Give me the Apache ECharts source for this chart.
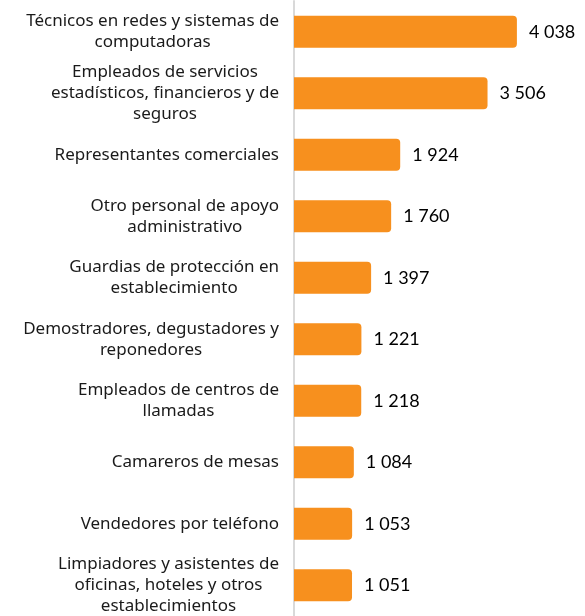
<!DOCTYPE html>
<html lang="es">
<head>
    <meta charset="utf-8">
    <title>Ocupaciones</title>
    <script src="https://cdn.jsdelivr.net/npm/echarts@6/dist/echarts.min.js"></script>
    <style>
        html, body { margin: 0; padding: 0; background: #fff; }
        #chart { width: 585px; height: 616px; }
    </style>
</head>
<body>
<div id="chart"></div>
<script type="text/javascript">
    // datos
    var categorias = [
        'Técnicos en redes y sistemas de\ncomputadoras',
        'Empleados de servicios\nestadísticos, financieros y de\nseguros',
        'Representantes comerciales',
        'Otro personal de apoyo\nadministrativo',
        'Guardias de protección en\nestablecimiento',
        'Demostradores, degustadores y\nreponedores',
        'Empleados de centros de\nllamadas',
        'Camareros de mesas',
        'Vendedores por teléfono',
        'Limpiadores y asistentes de\noficinas, hoteles y otros\nestablecimientos'
    ];
    var valores = [4038, 3506, 1924, 1760, 1397, 1221, 1218, 1084, 1053, 1051];

    function fmt(v) {
        return String(v).replace(/\B(?=(\d{3})+(?!\d))/g, ' ');
    }

    var chart = echarts.init(document.getElementById('chart'));
    chart.setOption({
        animation: false,
        grid: { left: 294, right: 15, top: 1, bottom: -2 },
        xAxis: {
            type: 'value',
            min: 0,
            max: 5000,
            show: false
        },
        yAxis: {
            type: 'category',
            inverse: true,
            data: categorias,
            axisLine: { show: true, lineStyle: { color: '#d9d9d9', width: 2 } },
            axisTick: { show: false },
            axisLabel: {
                margin: 15,
                align: 'right',
                // cada línea centrada dentro del bloque
                formatter: function (v) {
                    return v.split('\n').map(function (l) { return '{a|' + l + '}'; }).join('\n');
                },
                rich: {
                    a: {
                        align: 'center',
                        fontFamily: 'Noto Sans',
                        fontSize: 17,
                        lineHeight: 21,
                        color: '#1a1a1a'
                    }
                }
            }
        },
        series: [{
            type: 'bar',
            data: valores,
            barWidth: 32,
            itemStyle: { color: '#f7901e', borderRadius: [0, 4, 4, 0] },
            label: {
                show: true,
                position: 'right',
                distance: 12,
                fontFamily: 'Lato',
                fontSize: 18,
                color: '#000',
                formatter: function (p) { return fmt(p.value); }
            }
        }]
    });
</script>
</body>
</html>
